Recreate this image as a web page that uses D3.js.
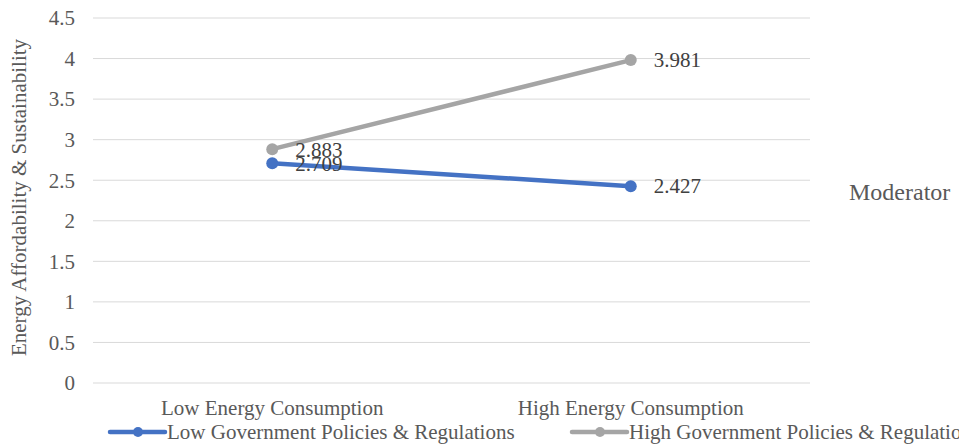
<!DOCTYPE html>
<html>
<head>
<meta charset="utf-8">
<script src="https://cdn.jsdelivr.net/npm/d3@7"></script>
<style>
  html, body { margin: 0; padding: 0; background: #fff; }
  svg { display: block; }
  svg text { font-family: "Liberation Serif", "Times New Roman", Times, serif; }
</style>
</head>
<body>
<svg id="chart" width="959" height="445"></svg>
<script>
// Interaction plot: moderator effect of government policies
const categories = ["Low Energy Consumption", "High Energy Consumption"];
const seriesNames = ["Low Government Policies & Regulations", "High Government Policies & Regulations"];
const lowPolicyValues = [2.709, 2.427];
const highPolicyValues = [2.883, 3.981];
const yTicks = [0, 0.5, 1, 1.5, 2, 2.5, 3, 3.5, 4, 4.5];
const yTitle = "Energy Affordability & Sustainability";
const legendTitle = "Moderator";

const colors = ["#4472c4", "#a5a5a5"];
const series = [
  { name: seriesNames[0], values: lowPolicyValues, color: colors[0] },
  { name: seriesNames[1], values: highPolicyValues, color: colors[1] }
];

const svg = d3.select("#chart");
const textColor = "#595959";
const fontSize = 21;
const serif = "'Liberation Serif', 'Times New Roman', Times, serif";

const plot = { left: 93, right: 810, top: 18, bottom: 383 };

const x = d3.scaleBand().domain(categories).range([plot.left, plot.right]);
const y = d3.scaleLinear().domain([0, 4.5]).range([plot.bottom, plot.top]);

// Gridlines
svg.append("g")
  .selectAll("line")
  .data(yTicks)
  .join("line")
  .attr("x1", plot.left).attr("x2", plot.right)
  .attr("y1", d => y(d)).attr("y2", d => y(d))
  .attr("stroke", "#d9d9d9").attr("stroke-width", 1);

// Y tick labels
svg.append("g")
  .selectAll("text")
  .data(yTicks)
  .join("text")
  .attr("x", 75).attr("y", d => y(d))
  .attr("dy", "0.35em")
  .attr("text-anchor", "end")
  .attr("fill", textColor)
  .attr("font-family", serif)
  .attr("font-size", fontSize)
  .text(d => d);

// Y axis title
svg.append("text")
  .attr("transform", `translate(26,${(plot.top + plot.bottom) / 2 - 3}) rotate(-90)`)
  .attr("text-anchor", "middle")
  .attr("fill", textColor)
  .attr("font-family", serif)
  .attr("font-size", fontSize)
  .text(yTitle);

// Category labels
svg.append("g")
  .selectAll("text")
  .data(categories)
  .join("text")
  .attr("x", d => x(d) + x.bandwidth() / 2)
  .attr("y", 415)
  .attr("text-anchor", "middle")
  .attr("fill", textColor)
  .attr("font-family", serif)
  .attr("font-size", fontSize)
  .text(d => d);

// Lines and markers
const line = d3.line()
  .x((d, i) => x(categories[i]) + x.bandwidth() / 2)
  .y(d => y(d));

series.forEach(s => {
  const g = svg.append("g");
  g.append("path")
    .attr("d", line(s.values))
    .attr("fill", "none")
    .attr("stroke", s.color)
    .attr("stroke-width", 4.5)
    .attr("stroke-linecap", "round");
  g.selectAll("circle")
    .data(s.values)
    .join("circle")
    .attr("cx", (d, i) => x(categories[i]) + x.bandwidth() / 2)
    .attr("cy", d => y(d))
    .attr("r", 6)
    .attr("fill", s.color);
});

// Data labels
series.forEach(s => {
  svg.append("g")
    .selectAll("text")
    .data(s.values)
    .join("text")
    .attr("x", (d, i) => x(categories[i]) + x.bandwidth() / 2 + 23)
    .attr("y", d => y(d))
    .attr("dy", "0.35em")
    .attr("fill", "#404040")
    .attr("font-family", serif)
    .attr("font-size", fontSize)
    .text(d => d3.format(".3f")(d));
});

// Moderator label
svg.append("text")
  .attr("x", 849).attr("y", 192)
  .attr("dy", "0.35em")
  .attr("fill", textColor)
  .attr("font-family", serif)
  .attr("font-size", 24)
  .text(legendTitle);

// Legend
const legendItems = [
  { x: 110, s: series[0] },
  { x: 572, s: series[1] }
];
legendItems.forEach(item => {
  const g = svg.append("g").attr("transform", `translate(${item.x},432)`);
  g.append("line")
    .attr("x1", 0).attr("x2", 55)
    .attr("stroke", item.s.color).attr("stroke-width", 4.5)
    .attr("stroke-linecap", "round");
  g.append("circle").attr("cx", 28).attr("r", 5).attr("fill", item.s.color);
  g.append("text")
    .attr("x", 57).attr("dy", "0.35em")
    .attr("fill", textColor)
    .attr("font-family", serif)
    .attr("font-size", fontSize)
    .text(item.s.name);
});
</script>
</body>
</html>
